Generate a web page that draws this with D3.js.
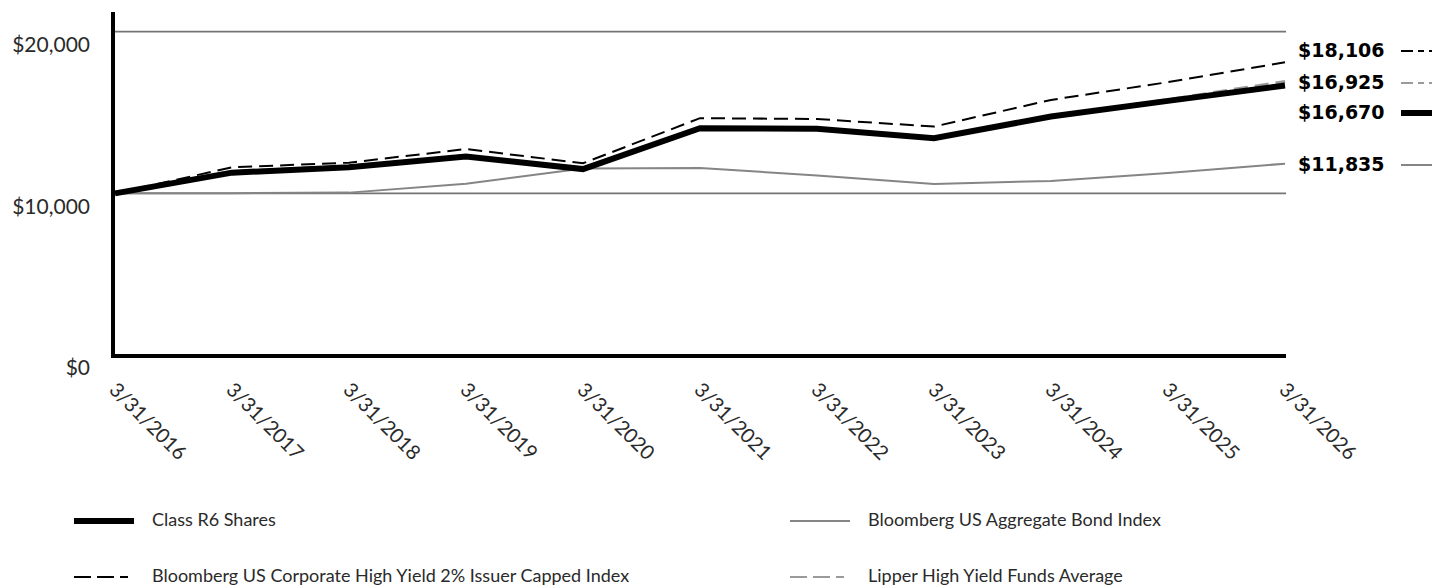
<!DOCTYPE html>
<html><head><meta charset="utf-8">
<script src="https://cdn.jsdelivr.net/npm/d3@7"></script>
<style>
html,body{margin:0;padding:0;background:#fff;}
svg{display:block;}
</style></head>
<body>
<svg id="chart" width="1432" height="588"></svg>
<script>
const dates = ["3/31/2016","3/31/2017","3/31/2018","3/31/2019","3/31/2020","3/31/2021","3/31/2022","3/31/2023","3/31/2024","3/31/2025","3/31/2026"];
const classR6 = [10000,11280,11610,12280,11500,14030,13990,13410,14750,15720,16670];
const corpHY  = [10000,11610,11900,12740,11860,14650,14600,14130,15780,16880,18106];
const aggBond = [10000,10010,10045,10600,11530,11572,11100,10582,10767,11262,11835];
const lipper  = [10000,11350,11680,12300,11450,14050,13980,13420,14780,15800,16925];
const yTicks = [0,10000,20000];
const yTickLabels = ["$0","$10,000","$20,000"];
const endLabels = ["$18,106","$16,925","$16,670","$11,835"];
const seriesNames = ["Class R6 Shares","Bloomberg US Aggregate Bond Index","Bloomberg US Corporate High Yield 2% Issuer Capped Index","Lipper High Yield Funds Average"];

const svg = d3.select("#chart");
const FONT = "Lato, 'Open Sans', sans-serif";

const x = d3.scalePoint().domain(dates).range([115, 1285]);
const y = d3.scaleLinear().domain([0, 20000]).range([355, 31.7]);

const styles = {
  r6:   {stroke:"#000", width:6, dash:null},
  hy:   {stroke:"#000", width:2, dash:"14,7"},
  agg:  {stroke:"#858585", width:2, dash:null},
  lip:  {stroke:"#9a9a9a", width:3, dash:"14,7"}
};

// gridlines
svg.append("g").selectAll("line").data(yTicks.filter(d => d > 0)).join("line")
  .attr("x1", 115).attr("x2", 1286)
  .attr("y1", d => y(d)).attr("y2", d => y(d))
  .attr("stroke", "#747474").attr("stroke-width", 1.8);

// y tick labels
svg.append("g").selectAll("text").data(yTicks).join("text")
  .attr("x", 90).attr("y", d => y(d) + 15)
  .attr("text-anchor", "end").attr("dominant-baseline", "middle")
  .attr("font-family", FONT).attr("font-size", 21).attr("fill", "#2a2a2a")
  .text((d, i) => yTickLabels[i]);

// x tick labels rotated
svg.append("g").selectAll("text").data(dates).join("text")
  .attr("transform", d => `translate(${x(d) - 7},${391}) rotate(45)`)
  .attr("text-anchor", "start")
  .attr("font-family", FONT).attr("font-size", 20).attr("fill", "#2a2a2a")
  .text(d => d);

const line = d3.line().x((d, i) => x(dates[i])).y(d => y(d));

function drawSeries(data, st) {
  const p = svg.append("path").datum(data).attr("d", line)
    .attr("fill", "none").attr("stroke", st.stroke).attr("stroke-width", st.width)
    .attr("stroke-linejoin", "miter");
  if (st.dash) p.attr("stroke-dasharray", st.dash);
}
drawSeries(aggBond, styles.agg);
drawSeries(lipper, styles.lip);
drawSeries(corpHY, styles.hy);
drawSeries(classR6, styles.r6);

// axes
svg.append("line").attr("x1", 113).attr("x2", 113).attr("y1", 12).attr("y2", 357)
  .attr("stroke", "#000").attr("stroke-width", 4);
svg.append("line").attr("x1", 111).attr("x2", 1286).attr("y1", 356).attr("y2", 356)
  .attr("stroke", "#000").attr("stroke-width", 4);

// end labels
const endY = [51, 83, 113, 165];
const endStyles = [
  {stroke:"#000", width:2, dash:"12,5,6,5"},
  {stroke:"#9a9a9a", width:2, dash:"12,5,6,5"},
  {stroke:"#000", width:6, dash:null},
  {stroke:"#858585", width:2, dash:null}
];
const eg = svg.append("g");
endLabels.forEach((t, i) => {
  eg.append("text").attr("x", 1298).attr("y", endY[i])
    .attr("dominant-baseline", "middle")
    .attr("font-family", "'DejaVu Sans', sans-serif").attr("font-weight", "bold")
    .attr("font-size", 19).attr("fill", "#000").text(t);
  const l = eg.append("line").attr("x1", 1401).attr("x2", 1440)
    .attr("y1", endY[i]).attr("y2", endY[i])
    .attr("stroke", endStyles[i].stroke).attr("stroke-width", endStyles[i].width);
  if (endStyles[i].dash) l.attr("stroke-dasharray", endStyles[i].dash);
});

// legend
const legendItems = [
  {name: seriesNames[0], st: styles.r6, lx: 74, ly: 521, dash:null},
  {name: seriesNames[1], st: styles.agg, lx: 790, ly: 521, dash:null},
  {name: seriesNames[2], st: styles.hy, lx: 74, ly: 577, dash:"17,6,17,6,8"},
  {name: seriesNames[3], st: styles.lip, lx: 790, ly: 577, dash:"17,6,17,6,8"}
];
const lg = svg.append("g");
legendItems.forEach(it => {
  const l = lg.append("line").attr("x1", it.lx).attr("x2", it.lx + 60)
    .attr("y1", it.ly).attr("y2", it.ly)
    .attr("stroke", it.st.stroke).attr("stroke-width", it.st.width === 6 ? 6 : 2);
  if (it.dash) l.attr("stroke-dasharray", it.dash);
  lg.append("text").attr("x", it.lx + 78).attr("y", it.ly)
    .attr("dominant-baseline", "middle")
    .attr("font-family", FONT).attr("font-size", 18).attr("fill", "#2a2a2a")
    .text(it.name);
});
</script>
</body></html>
